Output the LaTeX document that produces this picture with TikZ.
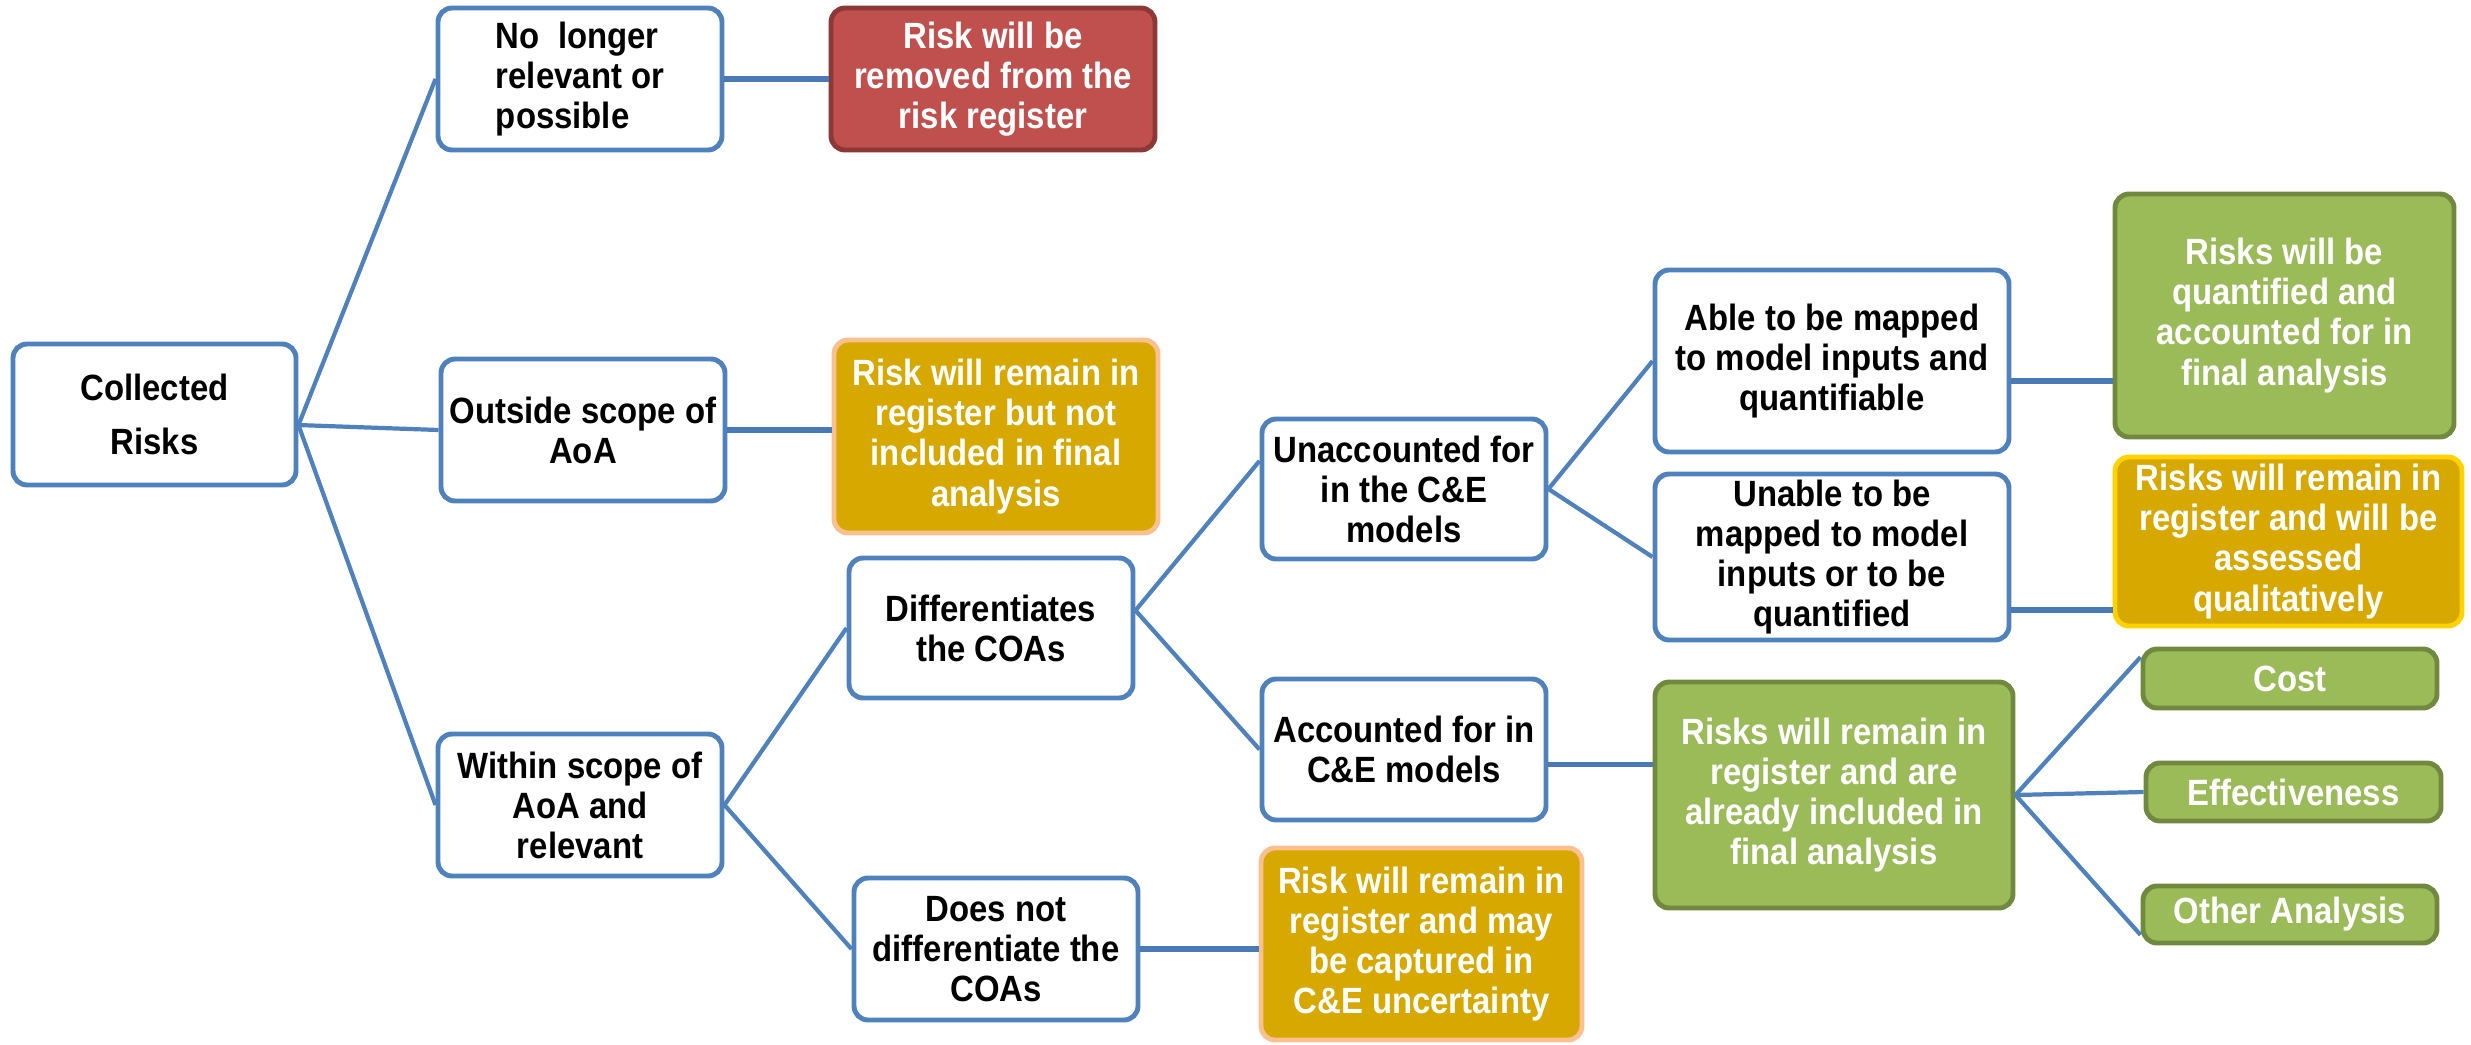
\documentclass[tikz,border=0pt]{standalone}
\usepackage{fontspec}
\newfontfamily\boxfont{Liberation Sans}[FakeStretch=0.9]
\usetikzlibrary{calc}
\definecolor{mblue}{RGB}{79,129,189}
\definecolor{mlink}{RGB}{74,122,182}
\definecolor{mred}{RGB}{192,80,77}
\definecolor{mredline}{RGB}{140,56,54}
\definecolor{mgold}{RGB}{214,168,0}
\definecolor{mgoldline}{RGB}{250,192,144}
\definecolor{myellowline}{RGB}{255,210,0}
\definecolor{mgreen}{RGB}{155,187,89}
\definecolor{mgreenline}{RGB}{113,137,63}
\tikzset{box/.style = {rectangle, rounded corners=4pt, line width=1.4pt, align=center,
                       inner sep=1pt, font=\boxfont\bfseries\fontsize{10.4}{11.4}\selectfont}}
\tikzset{dims/.style 2 args = {minimum width=#1cm, minimum height=#2cm}}
\tikzset{choice/.style = {box, draw=mblue, fill=white, text=black}}
\tikzset{redres/.style = {box, draw=mredline, fill=mred, text=white}}
\tikzset{goldres/.style = {box, draw=mgoldline, fill=mgold, text=white}}
\tikzset{greenres/.style = {box, draw=mgreenline, fill=mgreen, text=white}}
\tikzset{link/.style = {draw=mblue, line width=1.2pt}}
\tikzset{hlink/.style = {draw=mlink, line width=1.6pt}}

\begin{document}
\begin{tikzpicture}
    \useasboundingbox (0, 0) rectangle (24.71, -10.45);

    \node [choice, dims={2.83}{1.41}] (risks) at (1.545, -4.145) {Collected\\[4pt]Risks};

    \node [choice, dims={2.84}{1.42}, align=left] (nolonger) at (5.80, -0.79) {No\ \ longer\\relevant or\\possible};
    \node [choice, dims={2.84}{1.42}] (outside) at (5.83, -4.30) {Outside scope of\\AoA};
    \node [choice, dims={2.84}{1.42}] (within) at (5.80, -8.05) {Within scope of\\AoA and\\relevant};

    \node [redres, dims={3.24}{1.42}] (removed) at (9.93, -0.79) {Risk will be\\removed from the\\risk register};
    \node [goldres, dims={3.24}{1.93}] (notincl) at (9.96, -4.365) {Risk will remain in\\register but not\\included in final\\analysis};

    \node [choice, dims={2.84}{1.40}] (diff) at (9.91, -6.28) {Differentiates\\the COAs};
    \node [choice, dims={2.84}{1.42}] (nodiff) at (9.96, -9.49) {Does not\\differentiate the\\COAs};
    \node [goldres, dims={3.21}{1.92}] (captured) at (14.215, -9.44) {Risk will remain in\\register and may\\be captured in\\C\&E uncertainty};

    \node [choice, dims={2.84}{1.40}] (unacc) at (14.04, -4.89) {Unaccounted for\\in the C\&E\\models};
    \node [choice, dims={2.84}{1.41}] (acc) at (14.04, -7.495) {Accounted for in\\C\&E models};

    \node [choice, dims={3.54}{1.82}] (able) at (18.32, -3.61) {Able to be mapped\\to model inputs and\\quantifiable};
    \node [choice, dims={3.54}{1.66}] (unable) at (18.32, -5.57) {Unable to be\\mapped to model\\inputs or to be\\quantified};
    \node [greenres, dims={3.39}{2.43}] (quant) at (22.845, -3.155) {Risks will be\\quantified and\\accounted for in\\final analysis};
    \node [goldres, draw=myellowline, dims={3.47}{1.69}] (qual) at (22.885, -5.415) {Risks will remain in\\register and will be\\assessed\\qualitatively};

    \node [greenres, dims={3.58}{2.26}] (incl) at (18.34, -7.95) {Risks will remain in\\register and are\\already included in\\final analysis};
    \node [greenres, dims={2.94}{0.59}] (cost) at (22.90, -6.785) {Cost};
    \node [greenres, dims={2.95}{0.58}] (eff) at (22.935, -7.92) {Effectiveness};
    \node [greenres, dims={2.94}{0.57}] (other) at (22.90, -9.145) {Other Analysis};

    \draw [link] ([yshift=-3pt]risks.east) -- (nolonger.west);
    \draw [link] ([yshift=-3pt]risks.east) -- (outside.west);
    \draw [link] ([yshift=-3pt]risks.east) -- (within.west);

    \draw [hlink] (nolonger.east) -- (removed.west);
    \draw [hlink] (outside.east) -- (notincl.west |- outside.east);

    \draw [link] (within.east) -- (diff.west);
    \draw [link] (within.east) -- (nodiff.west);
    \draw [hlink] (nodiff.east) -- (captured.west |- nodiff.east);

    \draw [link] ([yshift=5pt]diff.east) -- ([yshift=8pt]unacc.west);
    \draw [link] ([yshift=5pt]diff.east) -- (acc.west);

    \draw [link] (unacc.east) -- (able.west);
    \draw [link] (unacc.east) -- (unable.west);

    \coordinate (ableout) at ([yshift=-2mm]able.east);
    \coordinate (unableout) at ([yshift=-5.3mm]unable.east);
    \coordinate (accout) at ([yshift=-1.5mm]acc.east);
    \draw [hlink] (ableout) -- (ableout -| quant.west);
    \draw [hlink] (unableout) -- (unableout -| qual.west);
    \draw [hlink] (accout) -- (accout -| incl.west);

    \draw [link] (incl.east) -- ([yshift=-3pt]cost.north west);
    \draw [link] (incl.east) -- (eff.west);
    \draw [link] (incl.east) -- ([yshift=3pt]other.south west);
\end{tikzpicture}
\end{document}
